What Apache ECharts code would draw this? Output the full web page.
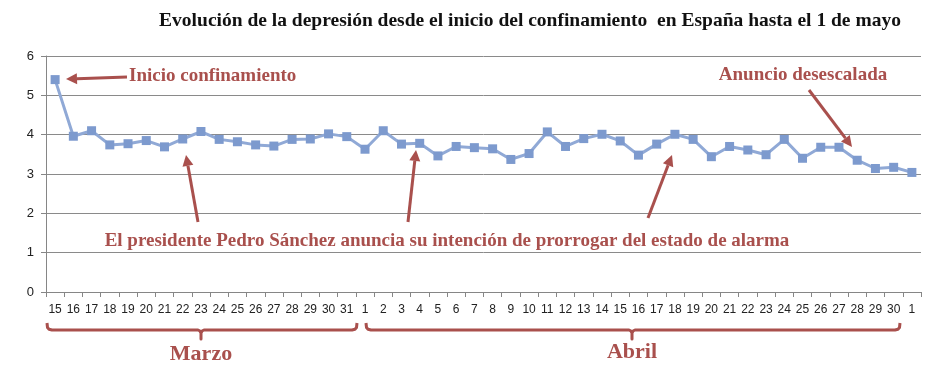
<!DOCTYPE html>
<html>
<head>
<meta charset="utf-8">
<script src="https://cdn.jsdelivr.net/npm/echarts@6/dist/echarts.min.js"></script>
<style>
html,body{margin:0;padding:0;background:#fff;}
#chart{width:939px;height:372px;}
</style>
</head>
<body>
<div id="chart"></div>
<script>
// Data
const days = ['15','16','17','18','19','20','21','22','23','24','25','26','27','28','29','30','31',
  '1','2','3','4','5','6','7','8','9','10','11','12','13','14','15','16','17','18','19','20','21','22','23','24','25','26','27','28','29','30',
  '1'];
const depression = [5.40,3.96,4.10,3.74,3.77,3.85,3.69,3.89,4.08,3.88,3.82,3.74,3.71,3.88,3.89,4.02,3.95,
  3.63,4.10,3.76,3.78,3.46,3.70,3.67,3.64,3.37,3.52,4.07,3.70,3.90,4.01,3.84,3.48,3.76,4.01,3.88,3.44,3.70,3.61,3.49,3.88,3.40,3.68,3.68,3.35,3.14,3.17,
  3.04];
const yTicks = [0,1,2,3,4,5,6];
const titleText = 'Evolución de la depresión desde el inicio del confinamiento  en España hasta el 1 de mayo';
const note1 = 'Inicio confinamiento';
const note2 = 'Anuncio desescalada';
const note3 = 'El presidente Pedro Sánchez anuncia su intención de prorrogar del estado de alarma';
const month1 = 'Marzo';
const month2 = 'Abril';

const RED = '#a9504d';
const chart = echarts.init(document.getElementById('chart'));

function arrow(x1,y1,x2,y2){
  const ang = Math.atan2(y2-y1,x2-x1);
  const L = 11, W = 5.5;
  const bx = x2 - L*Math.cos(ang), by = y2 - L*Math.sin(ang);
  const px = -Math.sin(ang), py = Math.cos(ang);
  return [
    {type:'line', shape:{x1:x1,y1:y1,x2:bx,y2:by}, style:{stroke:RED,lineWidth:3}, z:10},
    {type:'polygon', shape:{points:[[x2,y2],[bx+px*W,by+py*W],[bx-px*W,by-py*W]]}, style:{fill:RED}, z:10}
  ];
}
function brace(x1,x2,y,mid){
  const h = 7;
  return {type:'polyline', shape:{points:[
      [x1,y-h],[x1+0.5,y-2.5],[x1+2,y-0.8],[x1+5,y],
      [mid-3,y],[mid-1,y+1],[mid,y+3],[mid,y+h+2],
      [mid,y+3],[mid+1,y+1],[mid+3,y],
      [x2-5,y],[x2-2,y-0.8],[x2-0.5,y-2.5],[x2,y-h]
    ]}, style:{stroke:RED,lineWidth:3,fill:null,lineJoin:'round'}, z:10};
}

const option = {
  animation:false,
  backgroundColor:'#fff',
  title:{text:titleText,left:525,textAlign:'center',top:6,
    textStyle:{fontFamily:'Liberation Serif',fontWeight:'bold',fontSize:19.5,color:'#111'}},
  grid:{left:46,right:18,top:56,bottom:80},
  xAxis:{type:'category',data:days,boundaryGap:true,
    axisLine:{lineStyle:{color:'#868686',width:1}},
    axisTick:{show:true,length:5,lineStyle:{color:'#868686'}},
    axisLabel:{interval:0,color:'#222',fontSize:12,margin:12,fontFamily:'Liberation Sans'}},
  yAxis:{type:'value',min:0,max:6,interval:1,
    axisLine:{show:true,lineStyle:{color:'#868686'}},
    axisTick:{show:true,length:5,lineStyle:{color:'#868686'}},
    splitLine:{lineStyle:{color:'#8a8a8a',width:1}},
    axisLabel:{color:'#222',fontSize:13,margin:12,fontFamily:'Liberation Sans'}},
  series:[{type:'line',data:depression,symbol:'rect',symbolSize:9,
    lineStyle:{color:'#90a9d6',width:3},
    itemStyle:{color:'#7d9ace'}}]
};
chart.setOption(option);

const g = [];
const txt = (x,y,t,align,size)=>({type:'text',x:x,y:y,z:11,style:{text:t,fill:RED,font:`bold ${size||19}px "Liberation Serif"`,textAlign:align||'left',textVerticalAlign:'middle'}});
g.push(txt(129,76,note1));
g.push(...arrow(127,77,66,79));
g.push(txt(803,75,note2,'center'));
g.push(...arrow(809,90,852,147));
g.push(txt(447,241,note3,'center'));
g.push(...arrow(198,222,186,155));
g.push(...arrow(408,222,416,150));
g.push(...arrow(648,218,672,155));
g.push(brace(47,357,330,201));
g.push(brace(366,900,330,632));
g.push(txt(201,354,month1,'center',22));
g.push(txt(632,352,month2,'center',22));
chart.setOption({graphic:g});
</script>
</body>
</html>
